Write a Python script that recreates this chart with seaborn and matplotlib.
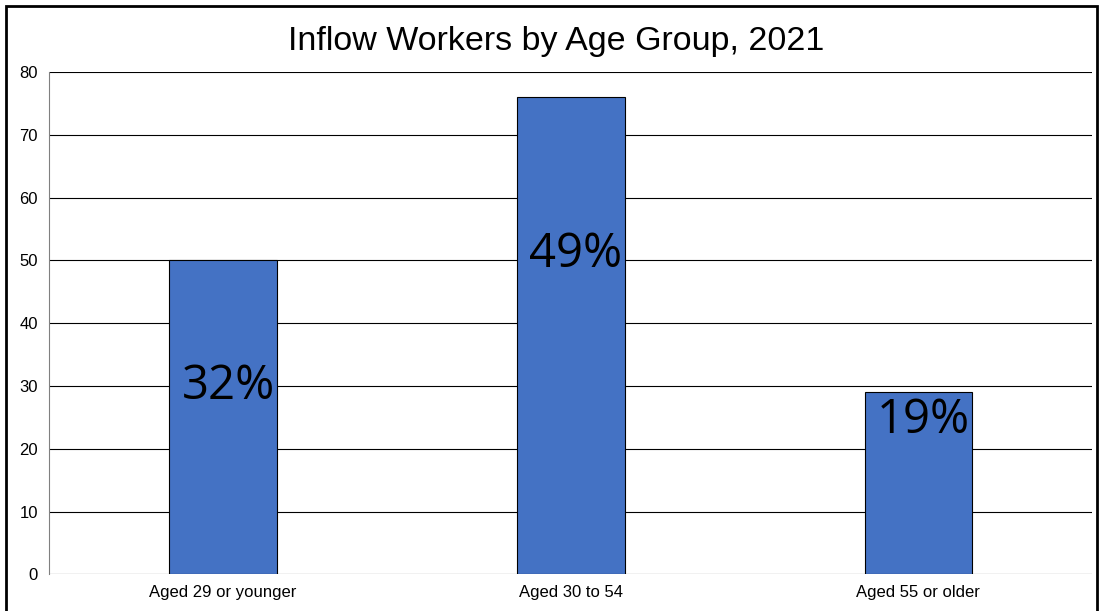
import matplotlib
matplotlib.use("Agg")
import matplotlib.pyplot as plt
import seaborn as sns
import pandas as pd

# dados
groups = ["Aged 29 or younger", "Aged 30 to 54", "Aged 55 or older"]
values = [50, 76, 29]
shares = ["32%", "49%", "19%"]

label_y = [30, 51, 24.5]  # onde o texto fica dentro da barra

df = pd.DataFrame({"group": groups, "value": values})

sns.set_style("white")
plt.rcParams["font.family"] = ["Liberation Sans", "DejaVu Sans"]
plt.rcParams["text.color"] = "black"
plt.rcParams["xtick.color"] = "black"
plt.rcParams["ytick.color"] = "black"

fig = plt.figure(figsize=(11, 6.11), dpi=100)
ax = fig.add_axes([0.0445, 0.06, 0.9485, 0.822])

sns.barplot(data=df, x="group", y="value", color="#4472C4", saturation=1, width=0.31,
            edgecolor="black", linewidth=0.8, ax=ax, zorder=3)

for i, (s, y) in enumerate(zip(shares, label_y)):
    ax.text(i + 0.015, y, s, ha="center", va="center", fontsize=34,
            family=["Open Sans", "DejaVu Sans"], color="black", zorder=4)

ax.set_ylim(0, 80)
ax.set_yticks(range(0, 81, 10))
ax.set_xlim(-0.5, 2.5)
ax.yaxis.grid(True, color="black", linewidth=0.8, zorder=0)
ax.set_axisbelow(True)
for side in ["top", "right", "bottom"]:
    ax.spines[side].set_visible(False)
ax.spines["left"].set_color("#808080")
ax.spines["left"].set_linewidth(0.8)
ax.tick_params(axis="both", labelsize=12, length=0, pad=8)
ax.set_xlabel("")
ax.set_ylabel("")
ax.set_title("Inflow Workers by Age Group, 2021", fontsize=24.5, pad=16, color="black", x=0.486)

# moldura da figura
fig.patches.append(plt.Rectangle((0.005, -0.01), 0.992, 1.0, transform=fig.transFigure,
                                 fill=False, edgecolor="black", linewidth=2))

fig.savefig("out.png", dpi=100)
